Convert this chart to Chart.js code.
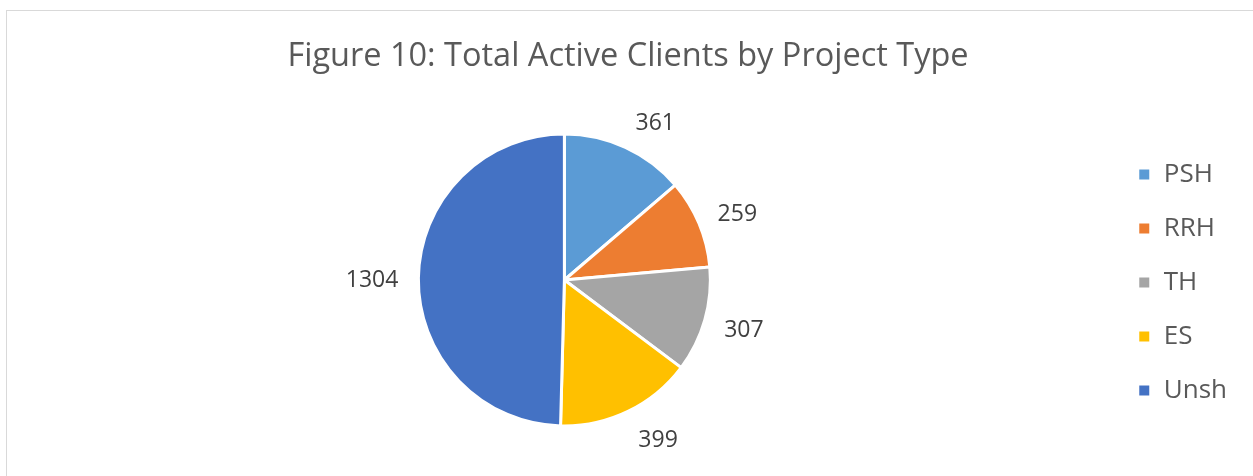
<!DOCTYPE html>
<html>
<head>
<meta charset="utf-8">
<script src="https://cdn.jsdelivr.net/npm/chart.js@4.4.1/dist/chart.umd.min.js"></script>
<style>
  html, body { margin: 0; padding: 0; background: #fff; overflow: hidden; }
  .frame {
    position: absolute; left: 6px; top: 10px;
    width: 1300px; height: 520px;
    border: 1px solid #d9d9d9;
  }
  .frame canvas { position: absolute; left: 0; top: 0; }
</style>
</head>
<body>
<div class="frame">
  <canvas id="pieChart" width="1246" height="465"></canvas>
</div>
<script>
const labels = ["PSH", "RRH", "TH", "ES", "Unsh"];
const clients = [361, 259, 307, 399, 1304];
const colors = ["#5B9BD5", "#ED7D31", "#A5A5A5", "#FFC000", "#4472C4"];

const FONT = "'Open Sans', 'Liberation Sans', sans-serif";

const clamp = (v) => Math.max(-1, Math.min(1, v));

// value labels just outside each slice (box edge touches a ring around the pie)
const outsideLabels = {
  id: "outsideLabels",
  afterDatasetsDraw(chart) {
    const ctx = chart.ctx;
    const meta = chart.getDatasetMeta(0);
    ctx.save();
    ctx.font = "23px " + FONT;
    ctx.fillStyle = "#404040";
    ctx.textAlign = "center";
    ctx.textBaseline = "middle";
    meta.data.forEach((arc, i) => {
      const p = arc.getProps(["x", "y", "startAngle", "endAngle", "outerRadius"], true);
      const mid = (p.startAngle + p.endAngle) / 2;
      const dx = Math.cos(mid);
      const dy = Math.sin(mid);
      const r = p.outerRadius + 17;
      const text = String(clients[i]);
      const w = ctx.measureText(text).width;
      const h = 24;
      const cx = p.x + dx * r + clamp(dx * 3) * (w / 2 + 3);
      const cy = p.y + dy * r + dy * h / 2 + 2.5;
      ctx.fillText(text, cx, cy);
    });
    ctx.restore();
  }
};

const data = {
  labels: labels,
  datasets: [
    {
      label: "Total Active Clients",
      data: clients,
      backgroundColor: colors,
      borderColor: "#ffffff",
      borderWidth: 3,
      hoverOffset: 0
    }
  ]
};

const config = {
  type: "pie",
  data: data,
  options: {
    responsive: false,
    animation: false,
    radius: 146,
    layout: { padding: { left: 12, right: 16, top: 0, bottom: 41 } },
    plugins: {
      title: {
        display: true,
        text: "Figure 10: Total Active Clients by Project Type",
        color: "#595959",
        font: { family: FONT, size: 32.5, weight: "normal" },
        padding: { top: 26.5, bottom: 48.5 }
      },
      legend: {
        position: "right",
        fullSize: false,
        align: "center",
        title: { display: true, text: "", padding: 0, font: { size: 4 } },
        labels: {
          color: "#595959",
          font: { family: FONT, size: 26 },
          boxWidth: 13,
          boxHeight: 13,
          padding: 28
        }
      },
      tooltip: { enabled: false }
    }
  },
  plugins: [outsideLabels]
};

const chart = new Chart(document.getElementById("pieChart"), config);
</script>
</body>
</html>
